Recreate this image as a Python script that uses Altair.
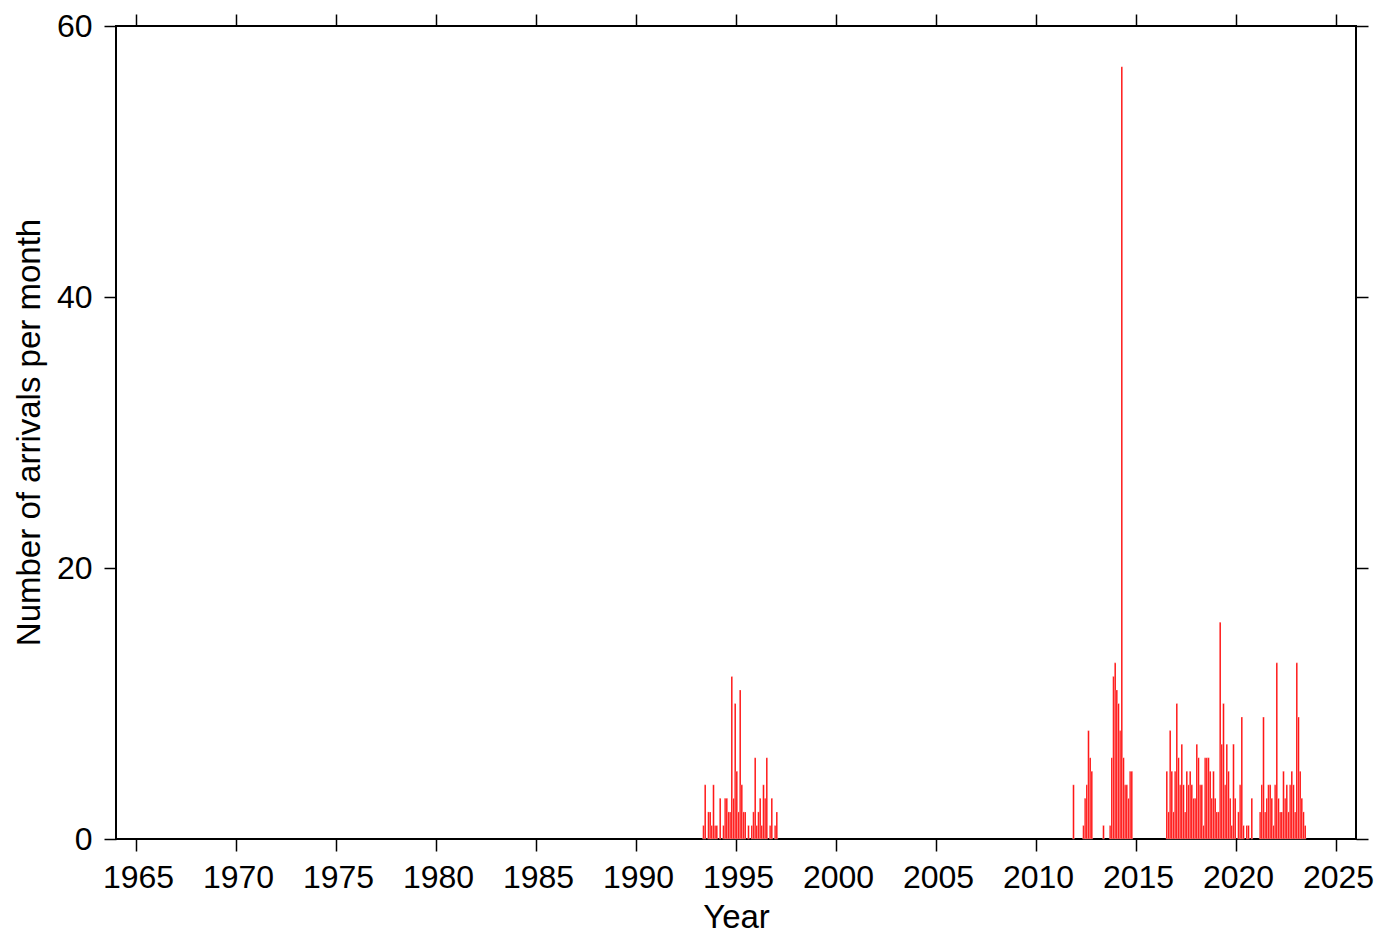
import altair as alt
import pandas as pd

# Monthly arrival counts, each cluster given as (start year, start month) + consecutive monthly counts
start_a = (1993, 5)
counts_a = [1, 4, 0, 2, 2, 1, 4, 1, 1, 0, 3, 0, 1, 3, 3, 2, 2, 12, 3, 10, 5, 2, 11, 4,
            2, 2, 0, 1, 0, 1, 2, 6, 1, 2, 3, 1, 4, 3, 6, 0, 1, 3, 0, 1, 2]

start_b = (2011, 11)
counts_b = [4, 0, 0, 0, 0, 0, 1, 3, 4, 8, 6, 5, 0, 0, 0, 0, 0, 0, 1, 0, 0, 0, 1, 6,
            12, 13, 11, 10, 8, 57, 6, 4, 4, 3, 5, 5]

start_c = (2016, 7)
counts_c = [5, 2, 8, 5, 2, 5, 10, 6, 4, 7, 4, 2, 5, 4, 5, 4, 3, 3, 7, 6, 4, 4, 1, 6,
            6, 6, 5, 3, 5, 3, 2, 2, 16, 7, 10, 4, 7, 5, 3, 1, 7,
            3, 0, 2, 4, 9, 1, 0, 1, 1, 0, 3, 0, 0, 0, 0, 2, 4, 9, 2, 3, 4, 4, 3, 1, 4,
            13, 3, 2, 2, 5, 3, 4, 2, 4, 5, 4, 2, 13, 9, 5, 3, 2, 1]

year_ticks = list(range(1965, 2030, 5))
count_ticks = [0, 20, 40, 60]

rows = []
for (y0, m0), counts in [(start_a, counts_a), (start_b, counts_b), (start_c, counts_c)]:
    for i, c in enumerate(counts):
        if c > 0:
            t = y0 + (m0 - 1 + i) / 12.0
            rows.append({"start": t, "end": t + 1.0 / 12.0, "count": c, "base": 0})
df = pd.DataFrame(rows)

xscale = alt.Scale(domain=[1964, 2026], nice=False, zero=False)
yscale = alt.Scale(domain=[0, 60], nice=False)

font = "Liberation Sans"

bars = alt.Chart(df).mark_bar(color="#ff0000", stroke="white", strokeWidth=0.3).encode(
    x=alt.X("start:Q", scale=xscale,
            axis=alt.Axis(orient="bottom", values=year_ticks, format="d", title="Year",
                          tickSize=12, labelPadding=11, labelOffset=2, labelFlush=False,
                          labelOverlap=False, titleX=620, titleY=88,
                          titleBaseline="alphabetic", titleAlign="center")),
    x2="end:Q",
    y=alt.Y("count:Q", scale=yscale,
            axis=alt.Axis(orient="left", values=count_ticks, format="d",
                          title="Number of arrivals per month",
                          tickSize=12, labelPadding=12, labelFlush=False, labelOverlap=False,
                          titleX=-77, titleY=406, titleAngle=-90,
                          titleBaseline="alphabetic", titleAlign="center")),
    y2="base:Q",
)

ghost = alt.Chart(df).mark_point(opacity=0).encode(
    x=alt.X("start:Q", scale=xscale,
            axis=alt.Axis(orient="top", values=year_ticks, labels=False, title=None, tickSize=12)),
    y=alt.Y("count:Q", scale=yscale,
            axis=alt.Axis(orient="right", values=count_ticks, labels=False, title=None, tickSize=12)),
)

chart = alt.layer(bars, ghost).resolve_axis(x="independent", y="independent").properties(
    width=1240, height=813,
    autosize=alt.AutoSizeParams(type="none"),
    padding={"left": 108, "top": 18, "right": 18, "bottom": 95},
    background="white",
).configure_view(
    stroke="black", strokeWidth=2
).configure_axis(
    grid=False, domain=False,
    tickColor="black", tickWidth=1.5,
    labelFont=font, labelFontSize=32, labelColor="black",
    titleFont=font, titleFontSize=33, titleColor="black", titleFontWeight="normal",
)

chart.save("out.html", embed_options={"renderer": "svg", "actions": False})
